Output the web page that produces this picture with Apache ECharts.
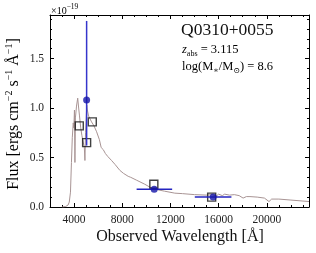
<!DOCTYPE html>
<html><head><meta charset="utf-8">
<script src="https://cdn.jsdelivr.net/npm/echarts@6/dist/echarts.min.js"></script>
<style>html,body{margin:0;padding:0;background:#fff}#c{width:316px;height:253px}</style>
</head><body><div id="c"></div>
<script>
// Model spectrum
const specWave = [3000,3300,3500,3600,3700,3780,3850,3930,3980,4030,4070,4110,4200,4300,4380,4450,4550,4650,4750,4850,4900,4950,5050,5100,5200,5300,5450,5550,5650,5870,6100,6250,6420,6600,6800,7110,7400,7800,8100,8490,8700,9200,9870,10300,10700,11500,12360,13000,14000,15000,15500,15800,16000,16300,16500,16900,17300,17700,18030,18300,18600,19200,19800,20180,20400,21000,22000,23000,23500];
const specFlux = [0.0,0.005,0.02,0.05,0.15,0.45,0.70,0.85,0.80,0.98,0.45,0.90,1.02,1.10,1.00,0.92,0.80,0.72,0.70,0.60,0.47,0.75,1.03,0.98,0.92,0.90,0.86,0.88,0.82,0.76,0.68,0.60,0.58,0.54,0.51,0.47,0.43,0.37,0.34,0.31,0.30,0.27,0.23,0.20,0.18,0.16,0.14,0.135,0.125,0.12,0.125,0.11,0.13,0.115,0.13,0.12,0.125,0.115,0.09,0.105,0.105,0.10,0.09,0.055,0.08,0.08,0.07,0.06,0.055];
// Observed photometry (blue points with error bars)
const photWave = [5040, 10650, 15540];
const photFlux = [1.08, 0.18, 0.10];
const photWaveLo = [5040, 9190, 14020];
const photWaveHi = [5040, 12140, 17060];
const photFluxLo = [0.62, 0.18, 0.10];
const photFluxHi = [1.88, 0.18, 0.10];
// Model photometry (open squares)
const modelWave = [4430, 5040, 5510, 10620, 15420];
const modelFlux = [0.82, 0.65, 0.86, 0.23, 0.10];
// Axes
const xMajor = [4000, 8000, 12000, 16000, 20000];
const yMajor = [0, 0.5, 1.0, 1.5];
const xRange = [2000, 23500];
const yRange = [0, 1.94];

const SERIF = '"Liberation Serif", "DejaVu Serif", serif';
const chart = echarts.init(document.getElementById('c'), null, {renderer: 'canvas'});

function majorX(pos, labels) {
  return {type: 'value', position: pos, min: xRange[0], max: xRange[1],
    axisLine: {show: true, onZero: false, lineStyle: {color: '#000', width: 1}},
    axisTick: {show: true, inside: true, length: 4, customValues: xMajor, lineStyle: {color: '#000'}},
    axisLabel: {show: labels, customValues: xMajor, margin: 7, fontFamily: SERIF, fontSize: 11.5, color: '#222',
      formatter: v => String(Math.round(v))},
    splitLine: {show: false}};
}
function minorX(pos) {
  return {type: 'value', position: pos, min: xRange[0], max: xRange[1], interval: 1000,
    axisLine: {show: false, onZero: false},
    axisTick: {show: true, inside: true, length: 2, lineStyle: {color: '#000'}},
    axisLabel: {show: false}, splitLine: {show: false}};
}
function majorY(pos, labels) {
  return {type: 'value', position: pos, min: yRange[0], max: yRange[1],
    axisLine: {show: true, onZero: false, lineStyle: {color: '#000', width: 1}},
    axisTick: {show: true, inside: true, length: 4, customValues: yMajor, lineStyle: {color: '#000'}},
    axisLabel: {show: labels, customValues: yMajor, margin: 6, fontFamily: SERIF, fontSize: 11.5, color: '#222',
      formatter: v => v.toFixed(1)},
    splitLine: {show: false}};
}
function minorY(pos) {
  return {type: 'value', position: pos, min: yRange[0], max: yRange[1], interval: 0.1,
    axisLine: {show: false, onZero: false},
    axisTick: {show: true, inside: true, length: 2, lineStyle: {color: '#000'}},
    axisLabel: {show: false}, splitLine: {show: false}};
}

const specData = specWave.map((w, i) => [w, specFlux[i]]);
const photData = photWave.map((w, i) => [w, photFlux[i]]);
const errData = photWave.map((w, i) => [w, photFlux[i], photWaveLo[i], photWaveHi[i], photFluxLo[i], photFluxHi[i]]);
const modelData = modelWave.map((w, i) => [w, modelFlux[i]]);
const BLUE = '#1414a8';

const sup = {fontFamily: SERIF, fontSize: 10, color: '#111', verticalAlign: 'bottom', padding: [0, 0, 7, 0]};
const main = {fontFamily: SERIF, fontSize: 16, color: '#111', verticalAlign: 'bottom'};

chart.setOption({
  animation: false,
  grid: {left: 50, right: 7, top: 15, bottom: 46, containLabel: false},
  xAxis: [majorX('bottom', true), minorX('bottom'), majorX('top', false), minorX('top')],
  yAxis: [majorY('left', true), minorY('left'), majorY('right', false), minorY('right')],
  series: [
    {type: 'line', data: specData, showSymbol: false, symbol: 'none', lineStyle: {color: '#a89494', width: 1}, z: 2},
    {type: 'scatter', data: modelData, symbol: 'rect', symbolSize: 8,
      itemStyle: {color: 'rgba(255,255,255,0)', borderColor: '#111', borderWidth: 1.4}, z: 3},
    {type: 'custom', data: errData, z: 4,
      renderItem: function (params, api) {
        const c = api.coord([api.value(0), api.value(1)]);
        const xl = api.coord([api.value(2), api.value(1)]);
        const xh = api.coord([api.value(3), api.value(1)]);
        const yl = api.coord([api.value(0), api.value(4)]);
        const yh = api.coord([api.value(0), api.value(5)]);
        return {type: 'group', children: [
          {type: 'line', shape: {x1: xl[0], y1: c[1], x2: xh[0], y2: c[1]}, style: {stroke: '#2424c0', lineWidth: 1.5}},
          {type: 'line', shape: {x1: c[0], y1: yl[1], x2: c[0], y2: yh[1]}, style: {stroke: '#3535cc', lineWidth: 1.5}}
        ]};
      }},
    {type: 'scatter', data: photData, symbol: 'circle', symbolSize: 7, itemStyle: {color: BLUE}, z: 5}
  ],
  graphic: [
    {type: 'text', x: 51, y: 3, style: {text: '{m|×10}{s|−19}', rich: {
      m: {fontFamily: SERIF, fontSize: 10, color: '#222', verticalAlign: 'bottom'},
      s: {fontFamily: SERIF, fontSize: 7.5, color: '#222', verticalAlign: 'bottom', padding: [0, 0, 5, 0]}}}},
    {type: 'text', x: 181, y: 21, style: {text: 'Q0310+0055', fontFamily: SERIF, fontSize: 17.5, fill: '#111'}},
    {type: 'text', x: 182, y: 43, style: {text: '{i|z}{s|abs}{m| = 3.115}', rich: {
      i: {fontFamily: SERIF, fontStyle: 'italic', fontSize: 12.5, color: '#111', verticalAlign: 'bottom', padding: [0, 0, 2, 0]},
      s: {fontFamily: SERIF, fontSize: 8, color: '#111', verticalAlign: 'bottom'},
      m: {fontFamily: SERIF, fontSize: 12.5, color: '#111', verticalAlign: 'bottom', padding: [0, 0, 2, 0]}}}},
    {type: 'text', x: 182, y: 60, style: {text: '{m|log(M}{s|∗}{m|/M}{s|⊙}{m|) = 8.6}', rich: {
      m: {fontFamily: SERIF, fontSize: 12.5, color: '#111', verticalAlign: 'bottom', padding: [0, 0, 2, 0]},
      s: {fontFamily: SERIF, fontSize: 8, color: '#111', verticalAlign: 'bottom'}}}},
    {type: 'text', x: 180, y: 237, style: {text: 'Observed Wavelength [Å]', fontFamily: SERIF, fontSize: 16, fill: '#111',
      align: 'center', verticalAlign: 'middle'}},
    {type: 'text', x: 13, y: 114, rotation: Math.PI / 2, style: {
      text: '{m|Flux [ergs cm}{s|−2}{m| s}{s|−1}{m| Å}{s|−1}{m|]}', rich: {m: main, s: sup},
      align: 'center', verticalAlign: 'middle'}}
  ]
});
</script></body></html>
